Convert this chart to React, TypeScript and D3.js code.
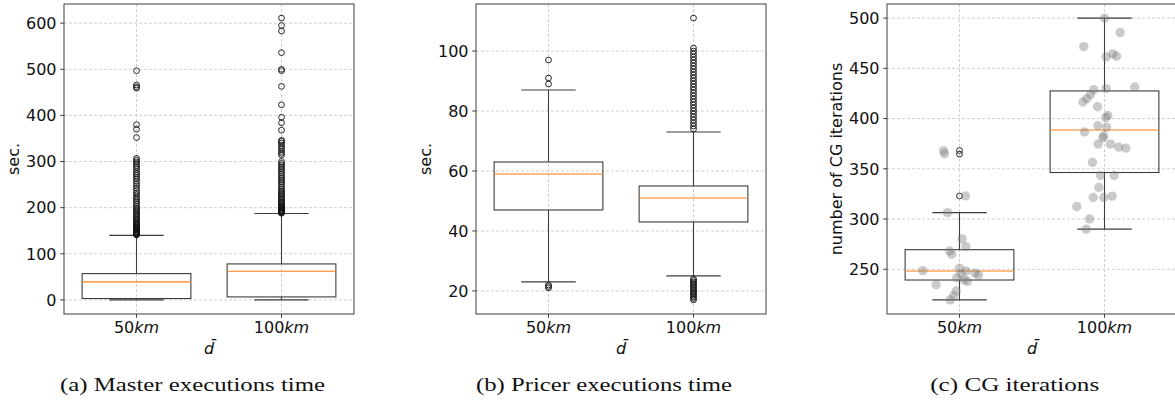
import React, { useEffect } from 'react';
import * as d3 from 'd3';

// categories on the x axis (value + italic unit)
const categories = ['50', '100'];
const unit = 'km';
const xLabel = 'd\u0304';

// box stats: [lower whisker, q1, median, q3, upper whisker]
const masterBox50 = [0, 3, 39, 57, 140];
const masterBox100 = [0, 6.5, 62, 78, 187.5];
const masterOut50 = [
  141, 142, 143, 144, 145, 146, 147, 148, 150, 151, 153, 154, 156, 158, 160, 162, 164, 166, 168, 170,
  173, 175, 178, 181, 184, 187, 190, 193, 196, 199, 203, 207, 211, 215, 219, 223, 228, 232, 237, 242,
  247, 252, 257, 262, 266, 270, 274, 278, 283, 287, 291, 295, 299, 303, 307, 352, 370, 380, 459, 462,
  466, 497,
];
const masterOut100 = [
  188, 189, 190, 191, 192, 194, 195, 197, 199, 201, 203, 205, 207, 210, 212, 215, 218, 221, 224, 227,
  230, 233, 236, 240, 244, 248, 252, 256, 260, 264, 268, 272, 276, 280, 284, 288, 292, 296, 300, 314,
  318, 322, 327, 331, 335, 340, 344, 346, 368, 384, 396, 423, 463, 497, 500, 536, 583, 595, 611,
];
const masterTicks = [0, 100, 200, 300, 400, 500, 600];

const pricerBox50 = [23, 47, 59, 63, 87];
const pricerBox100 = [25, 43, 51, 55, 73];
const pricerOut50 = [21, 21.5, 22, 89, 91, 97];
const pricerOut100 = [
  17, 17.5, 18, 18.5, 19, 19.5, 20, 20.5, 21, 21.5, 22, 22.5, 23, 23.5, 24,
  74, 75, 76, 77, 78, 79, 80, 81, 82, 83, 84, 85, 86, 87, 88, 89, 90, 91, 92, 93, 94, 95, 96, 97, 98,
  99, 100, 101, 111,
];
const pricerTicks = [20, 40, 60, 80, 100];

const cgBox50 = [219.5, 239.3, 248.3, 269.5, 306.4];
const cgBox100 = [290, 346.3, 388.6, 427.5, 500];
const cgOut50 = [323, 364.6, 368.2];
const cgOut100: number[] = [];
const cgTicks = [250, 300, 350, 400, 450, 500];

// individual runs drawn on top of the CG boxes (value, horizontal jitter in category units)
const cgRuns50 = [
  368, 365, 323, 306.4, 280.2, 272.5, 268.2, 265, 248.6, 251, 248.3, 245.3, 246, 244.3, 241.6, 239.3,
  238, 234.6, 228.4, 223.4, 219.5,
];
const cgJitter50 = [
  -0.11, -0.103, 0.041, -0.083, 0.018, 0.044, -0.069, -0.053, -0.253, 0, 0.046, 0.01, 0.108, 0.131,
  -0.018, 0.032, 0.055, -0.161, -0.023, -0.041, -0.064,
];
const cgRuns100 = [
  500, 485.6, 471.6, 461.4, 464.4, 462, 431.4, 429.8, 428.7, 423.8, 419.8, 416.5, 411.8, 403, 401,
  392.8, 391.5, 386.6, 382.9, 380.9, 374.6, 374.6, 371.6, 370.6, 356.3, 343.3, 343.3, 331.4, 321.4,
  321.4, 322.8, 312.4, 300.2, 290,
];
const cgJitter100 = [
  0, 0.108, -0.143, 0.011, 0.057, 0.083, 0.209, 0.011, -0.074, -0.097, -0.122, -0.149, -0.048, 0.023,
  0.009, -0.046, 0.014, -0.138, -0.005, -0.011, -0.044, 0.041, 0.097, 0.147, -0.083, -0.028, 0.067,
  -0.039, -0.078, -0.005, 0.053, -0.191, -0.103, -0.126,
];

const captions = ['(a) Master executions time', '(b) Pricer executions time', '(c) CG iterations'];

const TOP = 4;
const BOTTOM = 314;
const WIDTH = 290;
const FONT = 'DejaVu Sans, sans-serif';
const INK = '#3c3c3c';

type PanelProps = {
  left: number;
  boxes: number[][];
  outliers: number[][];
  ticks: number[];
  ylabel: string;
  ylabelX: number;
  caption: string;
  captionX: number;
  captionLen: number;
  runs?: number[][];
  jitter?: number[][];
};

const Panel = ({ left, boxes, outliers, ticks, ylabel, ylabelX, caption, captionX, captionLen, runs, jitter }: PanelProps) => {
  const x = d3.scaleLinear().domain([0.5, 2.5]).range([left, left + WIDTH]);
  const all = [...boxes.flat(), ...outliers.flat(), ...(runs ? runs.flat() : [])];
  const [lo, hi] = d3.extent(all) as [number, number];
  const pad = (hi - lo) * 0.05;
  const y = d3.scaleLinear().domain([lo - pad, hi + pad]).range([BOTTOM, TOP]);
  const bw = 0.75;
  const cw = 0.375;

  return (
    <g>
      {/* grid */}
      {ticks.map((t) => (
        <line key={'h' + t} x1={left} x2={left + WIDTH} y1={y(t)} y2={y(t)} stroke="#c4c4c4" strokeWidth={0.8} strokeDasharray="3,2" />
      ))}
      {categories.map((c, i) => (
        <line key={'v' + c} x1={x(i + 1)} x2={x(i + 1)} y1={TOP} y2={BOTTOM} stroke="#c4c4c4" strokeWidth={0.8} strokeDasharray="3,2" />
      ))}

      {/* boxes */}
      {boxes.map((b, i) => {
        const cx = x(i + 1);
        const [wl, q1, med, q3, wh] = b;
        return (
          <g key={'b' + i} fill="none" stroke={INK} strokeWidth={1.1}>
            <rect x={x(i + 1 - bw / 2)} y={y(q3)} width={x(i + 1 + bw / 2) - x(i + 1 - bw / 2)} height={y(q1) - y(q3)} />
            <line x1={cx} x2={cx} y1={y(q3)} y2={y(wh)} />
            <line x1={cx} x2={cx} y1={y(q1)} y2={y(wl)} />
            <line x1={x(i + 1 - cw / 2)} x2={x(i + 1 + cw / 2)} y1={y(wh)} y2={y(wh)} />
            <line x1={x(i + 1 - cw / 2)} x2={x(i + 1 + cw / 2)} y1={y(wl)} y2={y(wl)} />
            <line x1={x(i + 1 - bw / 2)} x2={x(i + 1 + bw / 2)} y1={y(med)} y2={y(med)} stroke="#ff7f0e" strokeWidth={1.1} />
          </g>
        );
      })}

      {/* outliers */}
      {outliers.map((arr, i) =>
        arr.map((v, j) => (
          <circle key={'o' + i + '-' + j} cx={x(i + 1)} cy={y(v)} r={2.9} fill="none" stroke="#111" strokeWidth={0.9} />
        ))
      )}

      {/* individual runs */}
      {runs &&
        jitter &&
        runs.map((arr, i) =>
          arr.map((v, j) => (
            <circle key={'r' + i + '-' + j} cx={x(i + 1 + jitter[i][j])} cy={y(v)} r={4.7} fill="#7a7a7a" fillOpacity={0.4} />
          ))
        )}

      {/* frame */}
      <rect x={left} y={TOP} width={WIDTH} height={BOTTOM - TOP} fill="none" stroke={INK} strokeWidth={1} />

      {/* y ticks */}
      {ticks.map((t) => (
        <g key={'yt' + t}>
          <line x1={left - 3.8} x2={left} y1={y(t)} y2={y(t)} stroke={INK} strokeWidth={1} />
          <text x={left - 7.5} y={y(t)} dy="0.36em" textAnchor="end" fontFamily={FONT} fontSize={16} fill="#111">
            {t}
          </text>
        </g>
      ))}

      {/* x ticks */}
      {categories.map((c, i) => (
        <g key={'xt' + c}>
          <line x1={x(i + 1)} x2={x(i + 1)} y1={BOTTOM} y2={BOTTOM + 3.8} stroke={INK} strokeWidth={1} />
          <text x={x(i + 1)} y={333} textAnchor="middle" fontFamily={FONT} fontSize={16} fill="#111">
            {c}
            <tspan fontStyle="italic">{unit}</tspan>
          </text>
        </g>
      ))}

      <text x={left + WIDTH / 2} y={354} textAnchor="middle" fontFamily={FONT} fontSize={16} fontStyle="italic" fill="#111">
        {xLabel}
      </text>
      <text
        transform={`translate(${ylabelX},${(TOP + BOTTOM) / 2}) rotate(-90)`}
        textAnchor="middle"
        fontFamily={FONT}
        fontSize={16}
        fill="#111"
      >
        {ylabel}
      </text>
      <text
        x={captionX}
        y={391}
        textAnchor="middle"
        fontFamily="Liberation Serif, serif"
        fontSize={18.5}
        textLength={captionLen}
        lengthAdjust="spacingAndGlyphs"
        fill="#111"
      >
        {caption}
      </text>
    </g>
  );
};

export default function App() {
  useEffect(() => {
    document.body.style.margin = '0';
    document.body.style.overflow = 'hidden';
  }, []);

  return (
    <svg width={1175} height={401} style={{ display: 'block', background: '#fff' }}>
      <Panel
        left={64}
        boxes={[masterBox50, masterBox100]}
        outliers={[masterOut50, masterOut100]}
        ticks={masterTicks}
        ylabel="sec."
        ylabelX={19}
        caption={captions[0]}
        captionX={192.5}
        captionLen={265}
      />
      <Panel
        left={476}
        boxes={[pricerBox50, pricerBox100]}
        outliers={[pricerOut50, pricerOut100]}
        ticks={pricerTicks}
        ylabel="sec."
        ylabelX={430.5}
        caption={captions[1]}
        captionX={604}
        captionLen={256}
      />
      <Panel
        left={887}
        boxes={[cgBox50, cgBox100]}
        outliers={[cgOut50, cgOut100]}
        ticks={cgTicks}
        ylabel="number of CG iterations"
        ylabelX={841.5}
        caption={captions[2]}
        captionX={1014.7}
        captionLen={169}
        runs={[cgRuns50, cgRuns100]}
        jitter={[cgJitter50, cgJitter100]}
      />
    </svg>
  );
}
